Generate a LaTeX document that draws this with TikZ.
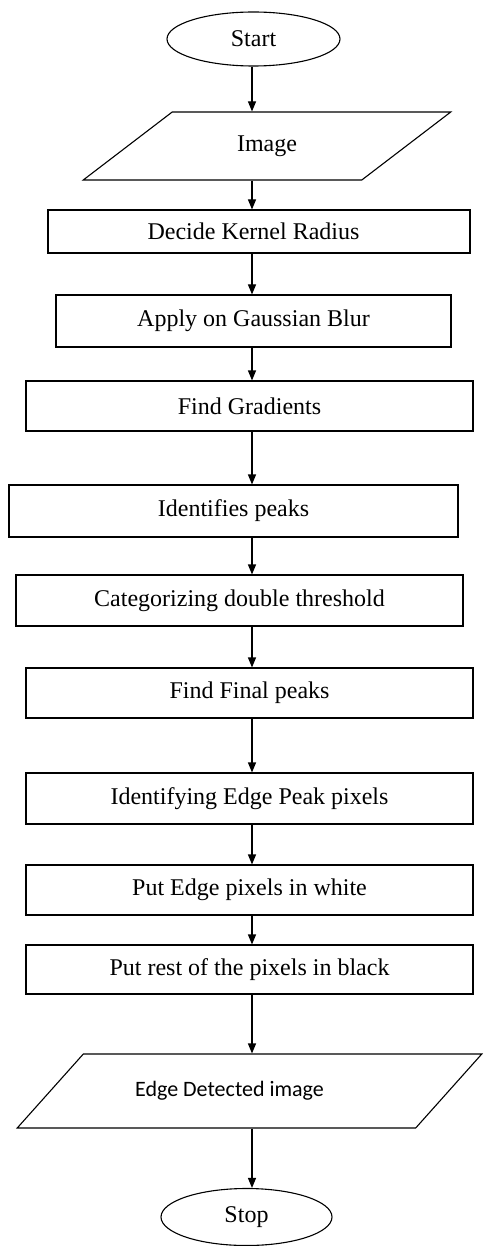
\documentclass[tikz,border=0pt]{standalone}
\usepackage{fontspec}
\setmainfont{Liberation Serif}
\newfontfamily\calib{Carlito}
\usetikzlibrary{shapes.geometric,arrows.meta}
\tikzset{
  base/.style={draw=black, line width=1.1pt, inner sep=0pt, font=\fontsize{24}{28}\selectfont, text=black},
  procbox/.style={base, rectangle},
  termbox/.style={base, ellipse},
  iobox/.style={base, trapezium, trapezium stretches=true},
  arr/.style={line width=1.1pt, -{Triangle[width=8pt,length=10pt]}}
}
\begin{document}
\begin{tikzpicture}[x=1pt,y=-1pt]
\useasboundingbox (0,0) rectangle (483,1246);
\coordinate (ax) at (252,0);
\node[termbox, minimum width=173pt, minimum height=54pt] (start) at (253.5,39) {Start};
\node[iobox, trapezium left angle=36.6, trapezium right angle=143.4, minimum width=368pt, minimum height=68pt] (img) at (267,146) {Image};
\node[procbox, minimum width=422pt, minimum height=43pt] (dec) at (259,231.5) {\hspace*{-11pt}Decide Kernel Radius};
\node[procbox, minimum width=395pt, minimum height=52pt] (app) at (253.5,321) {Apply on Gaussian Blur};
\node[procbox, minimum width=447pt, minimum height=50pt] (grad) at (249.5,406) {Find Gradients};
\node[procbox, minimum width=449pt, minimum height=52pt] (peak) at (233.5,511) {Identifies peaks};
\node[procbox, minimum width=447pt, minimum height=51pt] (cat) at (239.5,600.5) {Categorizing double threshold};
\node[procbox, minimum width=447pt, minimum height=50pt] (fin) at (249.5,693) {Find Final peaks};
\node[procbox, minimum width=447pt, minimum height=51pt] (iden) at (249.5,798.5) {Identifying Edge Peak pixels};
\node[procbox, minimum width=447pt, minimum height=50pt] (white) at (249.5,890) {Put Edge pixels in white};
\node[procbox, minimum width=447pt, minimum height=49pt] (rest) at (249.5,969.5) {Put rest of the pixels in black};
\node[iobox, trapezium left angle=32.8, trapezium right angle=147.2, minimum width=465pt, minimum height=74pt, font=\calib\fontsize{22}{26}\selectfont] (edge) at (249.5,1091) {\hspace*{-40pt}Edge Detected image};
\node[termbox, minimum width=171pt, minimum height=57pt] (stop) at (246.5,1217) {Stop};
\draw[arr] (start.south -| ax) -- (img.north -| ax);
\draw[arr] (img.south -| ax) -- (dec.north -| ax);
\draw[arr] (dec.south -| ax) -- (app.north -| ax);
\draw[arr] (app.south -| ax) -- (grad.north -| ax);
\draw[arr] (grad.south -| ax) -- (peak.north -| ax);
\draw[arr] (peak.south -| ax) -- (cat.north -| ax);
\draw[arr] (cat.south -| ax) -- (fin.north -| ax);
\draw[arr] (fin.south -| ax) -- (iden.north -| ax);
\draw[arr] (iden.south -| ax) -- (white.north -| ax);
\draw[arr] (white.south -| ax) -- (rest.north -| ax);
\draw[arr] (rest.south -| ax) -- (edge.north -| ax);
\draw[arr] (edge.south -| ax) -- (stop.north -| ax);
\end{tikzpicture}
\end{document}
